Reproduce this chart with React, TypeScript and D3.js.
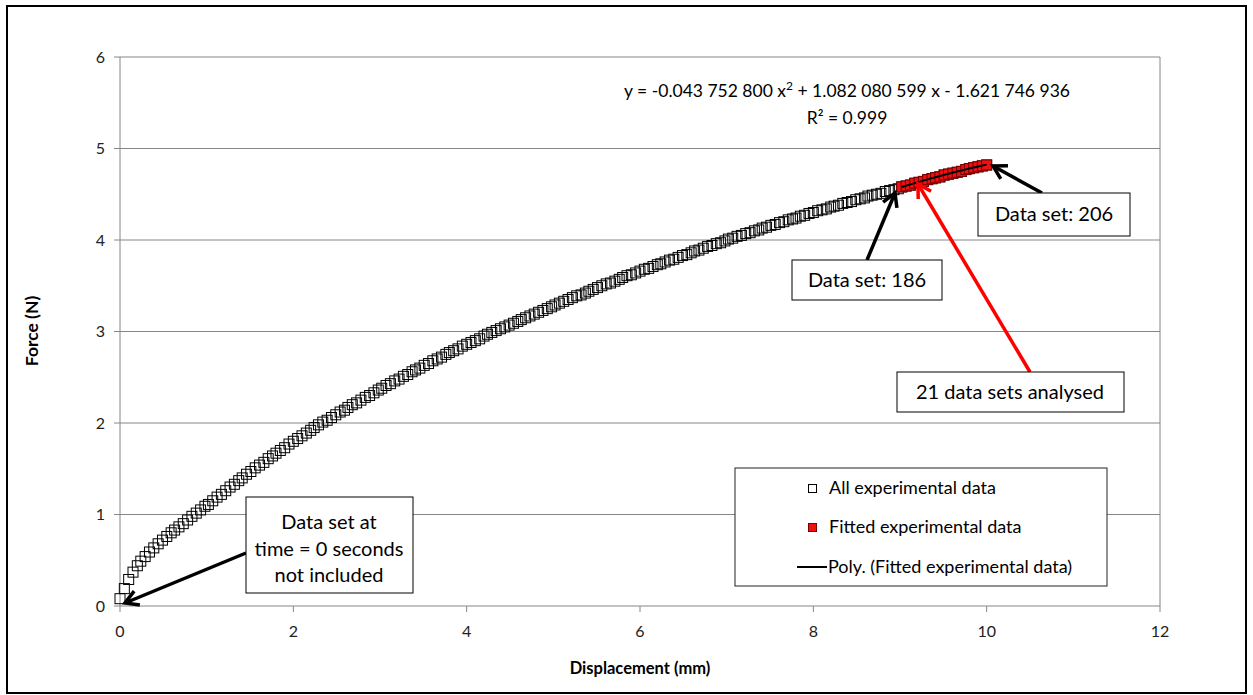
import React from 'react';
import * as d3 from 'd3';

// Displacement (mm) of every data set, time = 0 first
const displacement = [
  0.00, 0.05, 0.10, 0.15, 0.20, 0.24, 0.29, 0.34, 0.39, 0.44, 0.49, 0.54, 0.59, 0.63, 0.68, 0.73, 0.78, 0.83, 0.88, 0.93,
  0.98, 1.02, 1.07, 1.12, 1.17, 1.22, 1.27, 1.32, 1.37, 1.41, 1.46, 1.51, 1.56, 1.61, 1.66, 1.71, 1.76, 1.80, 1.85, 1.90,
  1.95, 2.00, 2.05, 2.10, 2.15, 2.20, 2.24, 2.29, 2.34, 2.39, 2.44, 2.49, 2.54, 2.59, 2.63, 2.68, 2.73, 2.78, 2.83, 2.88,
  2.93, 2.98, 3.02, 3.07, 3.12, 3.17, 3.22, 3.27, 3.32, 3.37, 3.41, 3.46, 3.51, 3.56, 3.61, 3.66, 3.71, 3.76, 3.80, 3.85,
  3.90, 3.95, 4.00, 4.05, 4.10, 4.15, 4.20, 4.24, 4.29, 4.34, 4.39, 4.44, 4.49, 4.54, 4.59, 4.63, 4.68, 4.73, 4.78, 4.83,
  4.88, 4.93, 4.98, 5.02, 5.07, 5.12, 5.17, 5.22, 5.27, 5.32, 5.37, 5.41, 5.46, 5.51, 5.56, 5.61, 5.66, 5.71, 5.76, 5.80,
  5.85, 5.90, 5.95, 6.00, 6.05, 6.10, 6.15, 6.20, 6.24, 6.29, 6.34, 6.39, 6.44, 6.49, 6.54, 6.59, 6.63, 6.68, 6.73, 6.78,
  6.83, 6.88, 6.93, 6.98, 7.02, 7.07, 7.12, 7.17, 7.22, 7.27, 7.32, 7.37, 7.41, 7.46, 7.51, 7.56, 7.61, 7.66, 7.71, 7.76,
  7.80, 7.85, 7.90, 7.95, 8.00, 8.05, 8.10, 8.15, 8.20, 8.24, 8.29, 8.34, 8.39, 8.44, 8.49, 8.54, 8.59, 8.63, 8.68, 8.73,
  8.78, 8.83, 8.88, 8.93, 8.98, 9.02, 9.07, 9.12, 9.17, 9.22, 9.27, 9.32, 9.37, 9.41, 9.46, 9.51, 9.56, 9.61, 9.66, 9.71,
  9.76, 9.80, 9.85, 9.90, 9.95, 10.00,
];

// Force (N)
const force = [
  0.08, 0.19, 0.29, 0.37, 0.44, 0.49, 0.54, 0.59, 0.635, 0.68, 0.72, 0.76, 0.80, 0.83, 0.865, 0.90, 0.94, 0.98, 1.015, 1.05,
  1.09, 1.11, 1.15, 1.19, 1.22, 1.26, 1.30, 1.33, 1.37, 1.40, 1.44, 1.47, 1.51, 1.54, 1.57, 1.61, 1.64, 1.67, 1.70, 1.73,
  1.77, 1.80, 1.83, 1.86, 1.89, 1.92, 1.95, 1.98, 2.01, 2.03, 2.06, 2.09, 2.12, 2.14, 2.17, 2.20, 2.22, 2.25, 2.28, 2.30,
  2.33, 2.36, 2.38, 2.41, 2.43, 2.46, 2.48, 2.51, 2.53, 2.56, 2.58, 2.60, 2.63, 2.65, 2.68, 2.70, 2.72, 2.75, 2.77, 2.79,
  2.81, 2.84, 2.86, 2.88, 2.90, 2.92, 2.95, 2.97, 2.99, 3.01, 3.03, 3.05, 3.07, 3.09, 3.11, 3.13, 3.15, 3.17, 3.19, 3.21,
  3.23, 3.25, 3.27, 3.29, 3.31, 3.33, 3.35, 3.37, 3.39, 3.40, 3.42, 3.44, 3.46, 3.48, 3.50, 3.52, 3.53, 3.55, 3.57, 3.59,
  3.61, 3.62, 3.64, 3.66, 3.68, 3.69, 3.71, 3.73, 3.74, 3.76, 3.78, 3.79, 3.81, 3.83, 3.84, 3.86, 3.88, 3.89, 3.91, 3.93,
  3.94, 3.96, 3.97, 3.99, 4.01, 4.02, 4.04, 4.05, 4.07, 4.08, 4.10, 4.11, 4.13, 4.14, 4.16, 4.17, 4.19, 4.20, 4.22, 4.23,
  4.24, 4.26, 4.27, 4.29, 4.30, 4.32, 4.33, 4.34, 4.36, 4.37, 4.38, 4.40, 4.41, 4.42, 4.44, 4.45, 4.46, 4.48, 4.49, 4.50,
  4.51, 4.53, 4.54, 4.55, 4.56, 4.58, 4.59, 4.60, 4.62, 4.63, 4.64, 4.66, 4.67, 4.68, 4.69, 4.71, 4.72, 4.73, 4.74, 4.75,
  4.77, 4.78, 4.79, 4.80, 4.81, 4.82,
];

// data sets 186..206 were used for the fit
const fitFirstSet = 186;
const fitLastSet = 206;
const polyCoef = [-0.0437528, 1.082080599, -1.621746936];

const xTicks = [0, 2, 4, 6, 8, 10, 12];
const yTicks = [0, 1, 2, 3, 4, 5, 6];

const FONT = 'Lato, "Open Sans", sans-serif';
const GRID = '#868686';

type ArrowProps = { x1: number; y1: number; x2: number; y2: number; color: string };

// thick line with an open "V" head at (x2, y2)
const Arrow = ({ x1, y1, x2, y2, color }: ArrowProps) => {
  const ang = Math.atan2(y2 - y1, x2 - x1);
  const len = 15;
  const spread = Math.PI / 6;
  const a1 = [x2 - len * Math.cos(ang - spread), y2 - len * Math.sin(ang - spread)];
  const a2 = [x2 - len * Math.cos(ang + spread), y2 - len * Math.sin(ang + spread)];
  return (
    <g stroke={color} strokeWidth={3.5} fill="none" strokeLinejoin="miter">
      <line x1={x1} y1={y1} x2={x2} y2={y2} />
      <polyline points={`${a1[0]},${a1[1]} ${x2},${y2} ${a2[0]},${a2[1]}`} />
    </g>
  );
};

export default function App() {
  const x = d3.scaleLinear().domain([0, 12]).range([120, 1160]);
  const y = d3.scaleLinear().domain([0, 6]).range([606, 57]);

  const all = displacement.map((d, i) => ({ d, f: force[i] }));
  const fitted = all.slice(fitFirstSet - 1, fitLastSet);

  const poly = (v: number) => polyCoef[0] * v * v + polyCoef[1] * v + polyCoef[2];
  const trend = d3.line<{ d: number; f: number }>()
    .x(p => x(p.d))
    .y(p => y(poly(p.d)));

  const ms = 10;

  return (
    <svg width={1253} height={695} style={{ position: 'absolute', left: 0, top: 0, background: '#fff' }} fontFamily={FONT}>
      <rect x={7} y={6} width={1239} height={687} fill="#fff" stroke="#000" strokeWidth={2} />

      {/* gridlines */}
      {yTicks.filter(t => t > 0).map(t => (
        <line key={t} x1={x(0)} x2={x(12)} y1={y(t)} y2={y(t)} stroke={GRID} strokeWidth={1} />
      ))}
      <line x1={x(12)} x2={x(12)} y1={y(6)} y2={y(0)} stroke={GRID} strokeWidth={1} />

      {/* axes */}
      <line x1={x(0)} x2={x(0)} y1={y(6)} y2={y(0)} stroke={GRID} strokeWidth={1} />
      <line x1={x(0)} x2={x(12)} y1={y(0)} y2={y(0)} stroke={GRID} strokeWidth={1} />
      {yTicks.map(t => (
        <g key={t}>
          <line x1={x(0) - 6} x2={x(0)} y1={y(t)} y2={y(t)} stroke={GRID} />
          <text x={x(0) - 15} y={y(t) + 5.5} textAnchor="end" fontSize={16} fill="#222">{t}</text>
        </g>
      ))}
      {xTicks.map(t => (
        <g key={t}>
          <line x1={x(t)} x2={x(t)} y1={y(0)} y2={y(0) + 6} stroke={GRID} />
          <text x={x(t)} y={637} textAnchor="middle" fontSize={16} fill="#222">{t}</text>
        </g>
      ))}
      <text x={640} y={674} textAnchor="middle" fontSize={16.5} fontWeight="bold" fill="#000">Displacement (mm)</text>
      <text transform="translate(38,331) rotate(-90)" textAnchor="middle" fontSize={17.5} fontWeight="bold" fill="#000">Force (N)</text>

      {/* all experimental data */}
      <g fill="none" stroke="#000" strokeWidth={1}>
        {all.map((p, i) => (
          <rect key={i} x={x(p.d) - ms / 2} y={y(p.f) - ms / 2} width={ms} height={ms} />
        ))}
      </g>
      {/* fitted experimental data */}
      <g fill="#ee1111" stroke="#7a0000" strokeWidth={1}>
        {fitted.map((p, i) => (
          <rect key={i} x={x(p.d) - ms / 2} y={y(p.f) - ms / 2} width={ms} height={ms} />
        ))}
      </g>
      <path d={trend(fitted) || ''} fill="none" stroke="#000" strokeWidth={2} />

      {/* equation */}
      <text x={847} y={97} textAnchor="middle" fontSize={17.5} fill="#000">
        y = -0.043 752 800 x<tspan dy={-7} fontSize={12}>2</tspan><tspan dy={7}> + 1.082 080 599 x - 1.621 746 936</tspan>
      </text>
      <text x={847} y={124} textAnchor="middle" fontSize={17.5} fill="#000">R² = 0.999</text>

      {/* annotations */}
      <Arrow x1={246} y1={553} x2={125} y2={603} color="#000" />
      <rect x={246} y={497} width={167} height={96} fill="#fff" stroke="#000" strokeWidth={1} />
      <text x={329} y={529} textAnchor="middle" fontSize={20}>Data set at</text>
      <text x={329} y={556} textAnchor="middle" fontSize={20}>time = 0 seconds</text>
      <text x={329} y={582} textAnchor="middle" fontSize={20}>not included</text>

      <Arrow x1={867} y1={260} x2={895} y2={193} color="#000" />
      <rect x={792} y={260} width={150} height={40} fill="#fff" stroke="#000" strokeWidth={1} />
      <text x={867} y={287} textAnchor="middle" fontSize={20}>Data set: 186</text>

      <Arrow x1={1042} y1={193} x2={993} y2={166} color="#000" />
      <rect x={978} y={193} width={152} height={43} fill="#fff" stroke="#000" strokeWidth={1} />
      <text x={1054} y={221} textAnchor="middle" fontSize={20}>Data set: 206</text>

      <Arrow x1={1030} y1={372} x2={918} y2={184} color="#ff0000" />
      <rect x={897} y={372} width={227} height={40} fill="#fff" stroke="#000" strokeWidth={1} />
      <text x={1010} y={399} textAnchor="middle" fontSize={20}>21 data sets analysed</text>

      {/* legend */}
      <rect x={735} y={468} width={372} height={118} fill="#fff" stroke="#222" strokeWidth={1} />
      <rect x={808.5} y={484.5} width={8} height={8} fill="#fff" stroke="#000" />
      <text x={829} y={494} fontSize={18}>All experimental data</text>
      <rect x={808.5} y={523.5} width={8} height={8} fill="#ee1111" stroke="#7a0000" />
      <text x={829} y={533} fontSize={18}>Fitted experimental data</text>
      <line x1={797} x2={827} y1={567} y2={567} stroke="#000" strokeWidth={2} />
      <text x={828} y={573} fontSize={18}>Poly. (Fitted experimental data)</text>
    </svg>
  );
}
